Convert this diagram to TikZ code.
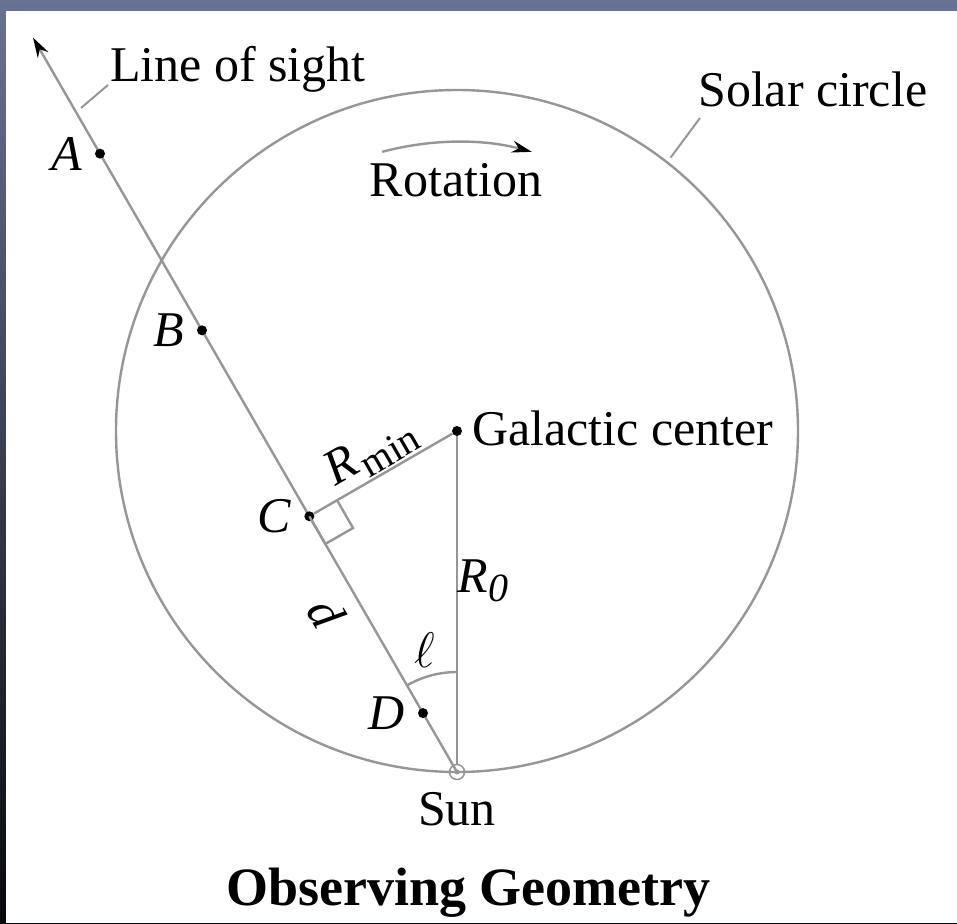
\documentclass[tikz,border=0pt]{standalone}
\usepackage{fix-cm}
\usepackage{fontspec}
\setmainfont{Liberation Serif}
\usetikzlibrary{positioning,calc,arrows.meta}
\definecolor{linegray}{RGB}{150,150,150}
\definecolor{spacetop}{RGB}{104,114,146}
\definecolor{spacebot}{RGB}{8,9,14}
\begin{document}
\begin{tikzpicture}[x=1pt, y=1pt, font=\fontsize{50}{60}\selectfont,
  thin line/.style={draw=linegray, line width=2.4pt},
  leader/.style={draw=linegray, line width=2pt},
  tip/.style={-{Stealth[length=20pt,width=12pt,black]}},
  dot/.style={circle,fill=black,inner sep=0pt,minimum size=10pt},
  pt label/.style={inner sep=0pt, font=\fontsize{50}{60}\selectfont\itshape},
  txt/.style={inner sep=0pt}]
% background
\fill[top color=spacetop, bottom color=spacebot] (-457,431) rectangle (500,-492);
\fill[white] (-451,420) rectangle (500,-492);
\useasboundingbox (-457,431) rectangle (500,-492);

\coordinate (sun) at (0,-341);
\coordinate (lostip) at ($(sun)+(120:848)$);

% solar circle, line of sight, radii
\draw[thin line] (0,0) circle (341);
\draw[thin line, tip] (sun) -- (lostip);
\draw[thin line, tip] (105:289) arc (105:75:289);
\draw[thin line] ($(sun)+(90:100)$) arc (90:120:100);

\begin{scope}[every node/.style={dot}]
\node (gc) at (0,0) {};
\node (A) at ($(sun)+(120:714)$) {};
\node (B) at ($(sun)+(120:510)$) {};
\node (C) at ($(sun)+(120:295.3)$) {};
\node (D) at ($(sun)+(120:68)$) {};
\end{scope}
\node[circle, draw=linegray, line width=1.5pt, minimum size=15pt, inner sep=0pt] (sunsym) at (sun) {};
\fill[linegray] (sun) circle (2.5);

\draw[thin line] (gc) -- (sunsym);
\draw[thin line] (C) -- (gc) node[midway, above=2pt, sloped, txt] {\textit{R}\kern3pt\raisebox{-0.4ex}{\fontsize{40}{44}\selectfont min}};
\draw[thin line] (C.center) -- ++(-60:32) -- ++(30:32) -- ++(120:32);

% point labels
\node[pt label, left=13pt of A] {A};
\node[pt label, left=13pt of B] {B};
\node[pt label, left=13pt of C] {C};
\node[pt label, left=13pt of D] {D};
\path (sun) -- (C) node[pos=0.7, sloped, below=16pt, pt label] {d};
\node[txt] (ell) at ($(sun)+(105:126)$) {$\ell$};
\node[txt] (r0) at (26,-150) {\textit{R}\raisebox{-0.4ex}{\fontsize{40}{44}\selectfont\itshape 0}};

% texts
\node[txt, anchor=base west] (lostext) at (-347,349) {Line of sight};
\node[txt, anchor=base west] (soltext) at (241,324) {Solar circle};
\node[txt, anchor=base] (rottext) at (-1,234) {Rotation};
\node[txt, anchor=base west] (gctext) at (15,-14) {Galactic center};
\node[txt, anchor=base] (suntext) at (0,-394) {Sun};
\node[txt, anchor=base, font=\fontsize{54}{60}\selectfont\bfseries] (title) at (11.5,-474) {Observing Geometry};

% leaders
\coordinate (loslead) at (-376,323);
\coordinate (sollead) at (52:347);
\draw[leader] (loslead) -- ($(lostext.base west)+(-2,-3)$);
\draw[leader] (sollead) -- ($(soltext.base west)+(2,-11)$);
\end{tikzpicture}
\end{document}
